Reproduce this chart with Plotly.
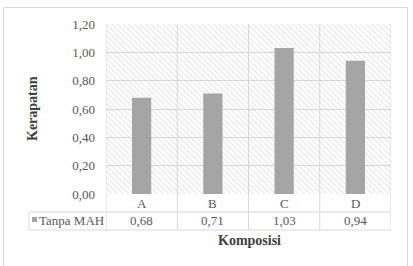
import plotly.graph_objects as go

categories = ["A", "B", "C", "D"]
values = [0.68, 0.71, 1.03, 0.94]
series_name = "Tanpa MAH"
y_ticks = [0.0, 0.2, 0.4, 0.6, 0.8, 1.0, 1.2]
y_max = 1.2

W, H = 413, 266
L, R, T, B = 106, 22, 24, 72
pw, ph = W - L - R, H - T - B

def px_x(p):
    return (p - L) / pw

def px_y(p):
    return (H - B - p) / ph

grid = "#d9d9d9"
txt = "#595959"
font = "'Liberation Serif', 'Times New Roman', 'DejaVu Serif', serif"

fig = go.Figure()
# hatched background
fig.add_trace(go.Bar(
    x=categories, y=[y_max] * len(categories), width=1,
    marker=dict(color="rgba(0,0,0,0)", line=dict(width=0),
                pattern=dict(shape="\\", fgcolor="#c8c8c8", bgcolor="rgba(0,0,0,0)",
                             size=4, solidity=0.25)),
    hoverinfo="skip", showlegend=False))
fig.add_trace(go.Bar(
    x=categories, y=values, width=0.27, name=series_name,
    marker=dict(color="#a5a5a5", line=dict(width=0)), showlegend=False))

shapes = []
for i in range(len(categories) + 1):
    xv = i - 0.5
    shapes.append(dict(type="line", xref="x", yref="paper", x0=xv, x1=xv,
                       y0=px_y(230), y1=1, line=dict(color=grid, width=1), layer="below"))
for yy in (212, 230):
    shapes.append(dict(type="line", xref="paper", yref="paper", x0=px_x(29), x1=1,
                       y0=px_y(yy), y1=px_y(yy), line=dict(color=grid, width=1)))
shapes.append(dict(type="line", xref="paper", yref="paper", x0=px_x(29), x1=px_x(29),
                   y0=px_y(212), y1=px_y(230), line=dict(color=grid, width=1)))
shapes.append(dict(type="rect", xref="paper", yref="paper", x0=px_x(32), x1=px_x(37),
                   y0=px_y(222), y1=px_y(217), fillcolor="#a5a5a5", line=dict(width=0)))
shapes.append(dict(type="rect", xref="paper", yref="paper", x0=px_x(3.5), x1=px_x(407.5),
                   y0=px_y(275), y1=px_y(7.5), line=dict(color="#d9d9d9", width=1)))

ann = []
for c, v in zip(categories, values):
    ann.append(dict(x=c, xref="x", y=px_y(203), yref="paper", text=c, showarrow=False,
                    xanchor="center", yanchor="middle",
                    font=dict(family=font, size=13, color=txt)))
    ann.append(dict(x=c, xref="x", y=px_y(221), yref="paper",
                    text=f"{v:.2f}".replace(".", ","), showarrow=False,
                    xanchor="center", yanchor="middle",
                    font=dict(family=font, size=13, color=txt)))
ann.append(dict(x=px_x(37), xref="paper", y=px_y(221), yref="paper", text=series_name,
                xanchor="left", yanchor="middle", showarrow=False,
                font=dict(family=font, size=13, color=txt)))
ann.append(dict(x=px_x(32), xref="paper", y=px_y(109), yref="paper", text="<b>Kerapatan</b>",
                textangle=-90, xanchor="center", yanchor="middle", showarrow=False,
                font=dict(family=font, size=14, color="#404040")))
ann.append(dict(x=px_x(249), xref="paper", y=px_y(241), yref="paper", text="<b>Komposisi</b>",
                xanchor="center", yanchor="middle", showarrow=False,
                font=dict(family=font, size=14, color="#404040")))

fig.update_layout(
    width=W, height=H, margin=dict(l=L, r=R, t=T, b=B, pad=0),
    paper_bgcolor="white", plot_bgcolor="white", barmode="overlay",
    separators=",.", shapes=shapes, annotations=ann, showlegend=False,
    font=dict(family=font),
    xaxis=dict(type="category", range=[-0.5, 3.5], showticklabels=False, showgrid=False,
               zeroline=False, showline=False, ticks=""),
    yaxis=dict(range=[0, y_max], tickvals=y_ticks, tickformat=".2f", showgrid=True,
               gridcolor=grid, gridwidth=1, zeroline=False, showline=False, ticks="",
               ticklabelstandoff=10,
               tickfont=dict(family=font, size=13, color=txt)),
)
fig.write_html("out.html")
